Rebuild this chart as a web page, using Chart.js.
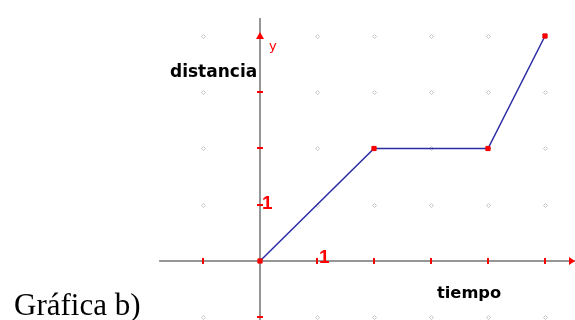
<!DOCTYPE html>
<html>
<head>
<meta charset="utf-8">
<script src="https://cdn.jsdelivr.net/npm/chart.js@4"></script>
<style>
html,body{margin:0;padding:0;background:#fff;}
#wrap{position:relative;width:575px;height:320px;}
canvas{display:block;}
</style>
</head>
<body>
<div id="wrap"><canvas id="c" width="575" height="320"></canvas></div>
<script>
// Data
const timeValues = [0, 2, 4, 5];
const distanceValues = [0, 2, 2, 4];
const xTickValues = [-1, 1, 2, 3, 4, 5];
const yTickValues = [-1, 1, 2, 3];
const gridXValues = [-1, 0, 1, 2, 3, 4, 5];
const gridYValues = [-1, 0, 1, 2, 3, 4];
const xLabel = 'tiempo';
const yLabel = 'distancia';
const caption = 'Gráfica b)';

const points = timeValues.map((t, i) => ({x: t, y: distanceValues[i]}));

const axesPlugin = {
  id: 'axesPlugin',
  beforeDatasetsDraw(chart) {
    const ctx = chart.ctx;
    const xs = chart.scales.x, ys = chart.scales.y;
    const X = v => xs.getPixelForValue(v);
    const Y = v => ys.getPixelForValue(v);
    const x0 = X(0), y0 = Y(0);
    ctx.save();
    // grid dots
    ctx.strokeStyle = '#c4c4c4';
    ctx.lineWidth = 1;
    gridXValues.forEach(gx => gridYValues.forEach(gy => {
      if (gx === 0 || gy === 0) return;
      const px = Math.round(X(gx)) + 0.5, py = Math.round(Y(gy)) + 0.5;
      ctx.beginPath();
      ctx.moveTo(px - 2, py); ctx.lineTo(px, py - 2); ctx.lineTo(px + 2, py); ctx.lineTo(px, py + 2); ctx.closePath();
      ctx.stroke();
    }));
    // axes
    ctx.strokeStyle = '#969696';
    ctx.lineWidth = 2;
    ctx.beginPath();
    ctx.moveTo(X(-1.77), y0); ctx.lineTo(chart.width, y0);
    ctx.moveTo(x0, 18); ctx.lineTo(x0, chart.height);
    ctx.stroke();
    // ticks
    ctx.strokeStyle = '#ff0000';
    ctx.lineWidth = 2;
    ctx.beginPath();
    xTickValues.forEach(v => { const p = Math.round(X(v)); ctx.moveTo(p, y0 - 3); ctx.lineTo(p, y0 + 3); });
    yTickValues.forEach(v => { const p = Math.round(Y(v)); ctx.moveTo(x0 - 3, p); ctx.lineTo(x0 + 3, p); });
    ctx.stroke();
    // arrows
    ctx.fillStyle = '#ff0000';
    ctx.beginPath();
    ctx.moveTo(chart.width, y0); ctx.lineTo(chart.width - 6, y0 - 4); ctx.lineTo(chart.width - 6, y0 + 4); ctx.closePath(); ctx.fill();
    const ya = Y(4);
    ctx.beginPath();
    ctx.moveTo(x0, ya - 4); ctx.lineTo(x0 - 4, ya + 3); ctx.lineTo(x0 + 4, ya + 3); ctx.closePath(); ctx.fill();
    // texts
    ctx.fillStyle = '#ff0000';
    ctx.font = '13px "DejaVu Sans"';
    ctx.textBaseline = 'alphabetic';
    ctx.fillText('y', x0 + 9, ya + 14);
    ctx.font = 'bold 19px "Liberation Sans"';
    ctx.fillText('1', X(1) + 2, y0 + 2);
    ctx.fillText('1', x0 + 2, Y(1) + 4);
    ctx.fillStyle = '#000';
    ctx.font = 'bold 17px "DejaVu Sans"';
    ctx.fillText(yLabel, 170, 77);
    ctx.font = 'bold 16.3px "DejaVu Sans"';
    ctx.fillText(xLabel, 437, 298);
    ctx.font = '31px "Liberation Serif"';
    ctx.fillText(caption, 14, 315);
    ctx.restore();
  }
};

new Chart(document.getElementById('c'), {
  type: 'line',
  data: {
    datasets: [{
      data: points,
      borderColor: '#2b2ba6',
      borderWidth: 1.5,
      pointStyle: 'rect',
      pointRadius: 3,
      pointBackgroundColor: '#ff0000',
      pointBorderColor: '#ee0000',
      pointBorderWidth: 1,
      tension: 0,
      fill: false
    }]
  },
  options: {
    responsive: false,
    animation: false,
    layout: {padding: 0, autoPadding: false},
    plugins: {legend: {display: false}, tooltip: {enabled: false}},
    scales: {
      x: {type: 'linear', display: false, min: -260 / 57, max: 315 / 57},
      y: {type: 'linear', display: false, min: -59 / 56.25, max: 261 / 56.25}
    }
  },
  plugins: [axesPlugin]
});
</script>
</body>
</html>
